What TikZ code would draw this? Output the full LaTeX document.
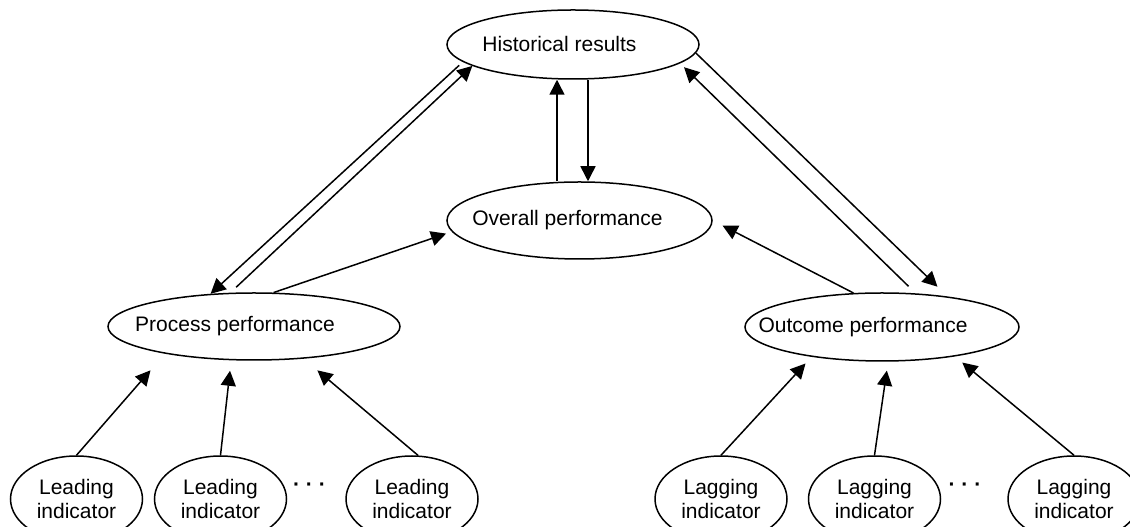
\documentclass[tikz,border=0pt]{standalone}
\usepackage{fontspec}
\setmainfont{Liberation Sans}
\usetikzlibrary{
	positioning,
	arrows.meta,
	shapes.geometric
}

\begin{document}
\begin{tikzpicture}[
			x=1pt,y=1pt,
			every node/.append style={font=\fontsize{21pt}{23.3pt}\selectfont},
			bigell/.style={
				draw,
				ellipse,
				line width=1.5pt,
				inner sep=0pt
			},
			ind/.style={
				draw,
				ellipse,
				line width=1.5pt,
				inner sep=0pt,
				minimum width=132pt,
				minimum height=86pt,
				align=center
			},
			dots/.style={anchor=base,inner sep=0pt,font=\fontsize{21pt}{23.3pt}\selectfont\bfseries},
			arrow/.style={-{Triangle[length=15pt,width=15pt]},line width=1.5pt}
			]
			
			\useasboundingbox (0,0) rectangle (1130,527);
			\clip (0,0) rectangle (1130,527);
			
			\node[bigell,minimum width=252pt,minimum height=69pt,
				label={[xshift=-13.5pt]center:Historical results}] (hist) at (573,482.5) {};
			
			\node[bigell,minimum width=265pt,minimum height=77pt,
				label={[xshift=-12pt]center:Overall performance}] (overall) at (579.5,306.5) {};
			
			\node[bigell,minimum width=292pt,minimum height=67pt,
				label={[xshift=-19pt]center:Process performance}] (proc) at (254,200.5) {};
			
			\node[bigell,minimum width=274pt,minimum height=68pt,
				label={[xshift=-19pt]center:Outcome performance}] (outc) at (882,200) {};
			
			% leading indicators
			\node[ind] (lead1) at (76.5,28) {Leading\\indicator};
			\node[ind,right=10.5pt of lead1] (lead2) {Leading\\indicator};
			\node[ind,right=58pt of lead2] (lead3) {Leading\\indicator};
			\node[dots] (dotsL) at (309.5,35.3) {·\ ·\ ·};
			
			% lagging indicators
			\node[ind] (lag1) at (721,28) {Lagging\\indicator};
			\node[ind,right=20pt of lag1] (lag2) {Lagging\\indicator};
			\node[ind,right=66pt of lag2] (lag3) {Lagging\\indicator};
			\node[dots] (dotsG) at (965,35.3) {·\ ·\ ·};
			
			\draw[arrow,shorten <=8pt] (proc.125)--(hist.192);
			\draw[arrow,shorten <=5pt] (hist.189)--(proc.143);
			\draw[arrow,shorten >=6pt] (proc.60)--(overall.185);
			\draw[arrow] ([xshift=15pt]hist.south)--([xshift=8.5pt]overall.north);
			\draw[arrow] ([xshift=-22.5pt]overall.north)--([xshift=-16pt]hist.south);
			\draw[arrow,shorten >=14pt] (hist.356)--(outc.25);
			\draw[arrow,shorten <=10pt,shorten >=5.5pt] (outc.45)--(hist.350);
			\draw[arrow,shorten >=11pt] (outc.130)--(overall.east);
			
			\draw[arrow,shorten >=22pt] (lead1.north)--(proc.197);
			\draw[arrow,shorten >=10.5pt] (lead2.north)--(proc.236);
			\draw[arrow,shorten >=18pt] (lead3.82)--(proc.327);
			\draw[arrow,shorten >=9pt] (lag1.north)--(outc.203);
			\draw[arrow,shorten >=9pt] (lag2.north)--(outc.280);
			\draw[arrow,shorten >=9.5pt] (lag3.north)--(outc.338);
			
		\end{tikzpicture}
\end{document}
